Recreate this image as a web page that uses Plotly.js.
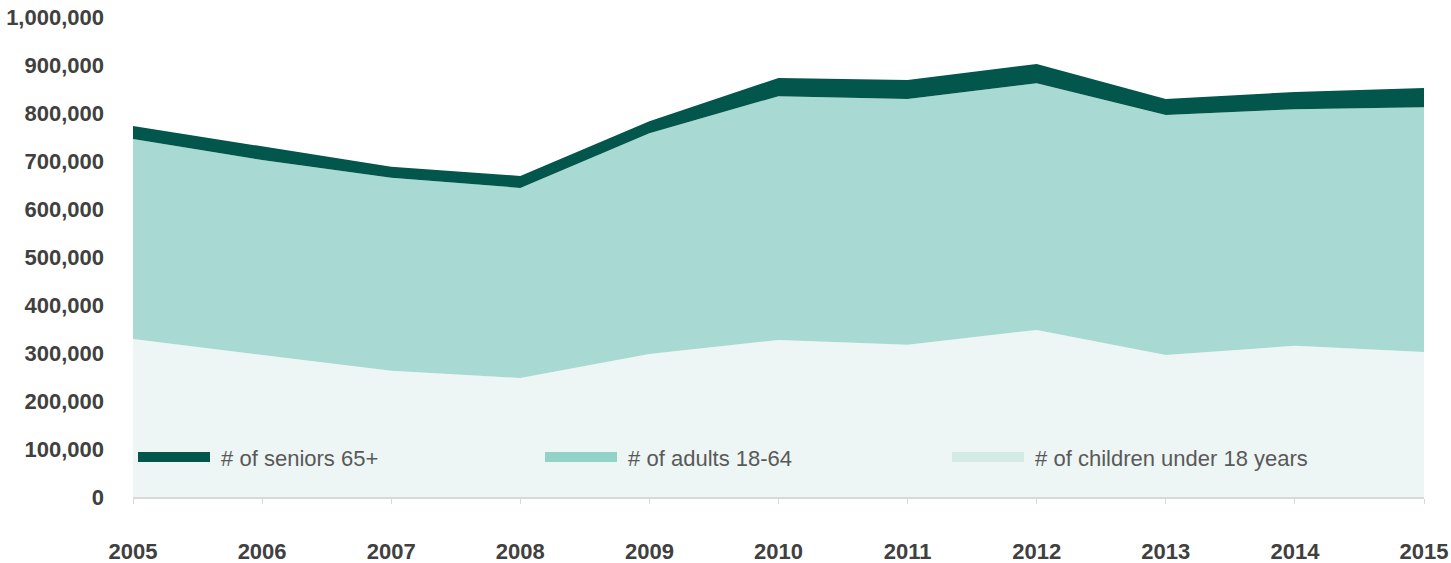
<!DOCTYPE html>
<html>
<head>
<meta charset="utf-8">
<script src="https://cdn.plot.ly/plotly-3.0.1.min.js"></script>
<style>html,body{margin:0;padding:0;background:#fff;}#chart{width:1451px;height:563px;}</style>
</head>
<body>
<div id="chart"></div>
<script>
var years = [2005, 2006, 2007, 2008, 2009, 2010, 2011, 2012, 2013, 2014, 2015];
var children = [329000, 296000, 263000, 248000, 298000, 327000, 317000, 348000, 296000, 315000, 302000];
var adults = [417000, 406000, 402000, 396000, 460000, 508000, 512000, 514000, 500000, 493000, 510000];
var seniors = [27000, 29000, 23000, 25000, 25000, 38000, 40000, 40000, 33000, 36000, 40000];
var yTicks = [0, 100000, 200000, 300000, 400000, 500000, 600000, 700000, 800000, 900000, 1000000];
var names = ['# of seniors 65+', '# of adults 18-64', '# of children under 18 years'];

var FONT = 'Liberation Sans, Arial, sans-serif';
var PAD = '\u00a0';

var traces = [
  {x: years, y: children, name: names[2], type: 'scatter', mode: 'lines', showlegend: false,
   stackgroup: 'one', line: {width: 0}, fillcolor: '#edf6f4', hoverinfo: 'x+y'},
  {x: years, y: adults, name: names[1], type: 'scatter', mode: 'lines', showlegend: false,
   stackgroup: 'one', line: {width: 0}, fillcolor: '#a8dad3', hoverinfo: 'x+y'},
  {x: years, y: seniors, name: names[0], type: 'scatter', mode: 'lines', showlegend: false,
   stackgroup: 'one', line: {width: 0}, fillcolor: '#02564b', hoverinfo: 'x+y'},
  // legend keys
  {x: [null], y: [null], name: PAD + names[0], type: 'scatter', mode: 'lines', line: {width: 10, color: '#02564b'}},
  {x: [null], y: [null], name: PAD + names[1], type: 'scatter', mode: 'lines', line: {width: 10, color: '#93d3c7'}},
  {x: [null], y: [null], name: PAD + names[2], type: 'scatter', mode: 'lines', line: {width: 10, color: '#d3ebe5'}}
];

var layout = {
  width: 1451, height: 563,
  margin: {l: 133, r: 27, t: 17, b: 66},
  paper_bgcolor: '#ffffff', plot_bgcolor: '#ffffff',
  font: {family: FONT, color: '#404040'},
  showlegend: true,
  legend: {
    orientation: 'h', x: 0, xanchor: 'left', y: 0.083, yanchor: 'middle',
    traceorder: 'normal', bgcolor: 'rgba(0,0,0,0)',
    itemwidth: 72, entrywidth: 320, entrywidthmode: 'pixels',
    font: {family: FONT, size: 22, color: '#595959'}
  },
  xaxis: {
    range: [2005, 2015], tickmode: 'array', tickvals: years, ticktext: years.map(String),
    showgrid: false, zeroline: false, showline: true, linecolor: '#d9d9d9', linewidth: 2,
    ticks: 'outside', ticklen: 5, tickcolor: '#d9d9d9', tickwidth: 1,
    tickfont: {family: FONT, size: 22, color: '#404040', weight: 'bold'},
    ticklabelstandoff: 29, fixedrange: true
  },
  yaxis: {
    range: [0, 1000000], tickmode: 'array', tickvals: yTicks, tickformat: ',d',
    showgrid: false, zeroline: false, showline: false, ticks: '',
    tickfont: {family: FONT, size: 22, color: '#404040', weight: 'bold'},
    ticklabelstandoff: 28, fixedrange: true
  }
};

Plotly.newPlot('chart', traces, layout, {displayModeBar: false, staticPlot: true});
</script>
</body>
</html>
